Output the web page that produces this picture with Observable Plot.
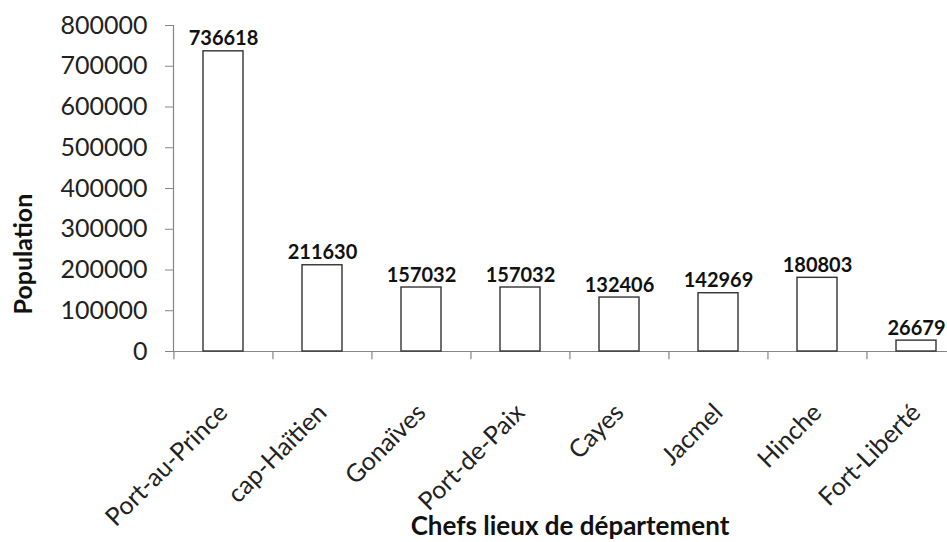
<!DOCTYPE html>
<html><head><meta charset="utf-8">
<script src="https://cdn.jsdelivr.net/npm/d3@7"></script>
<script src="https://cdn.jsdelivr.net/npm/@observablehq/plot@0.6"></script>
<style>body{margin:0;background:#fff;} svg{overflow:hidden;display:block}</style>
</head><body><div id="chart"></div>
<script>
const categories = ["Port-au-Prince","cap-Haïtien","Gonaïves","Port-de-Paix","Cayes","Jacmel","Hinche","Fort-Liberté"];
const population = [736618,211630,157032,157032,132406,142969,180803,26679];
const yTicks = [0,100000,200000,300000,400000,500000,600000,700000,800000];
const yTitle = "Population";
const xTitle = "Chefs lieux de département";

const data = categories.map((c, i) => ({city: c, pop: population[i]}));
const W = 947, H = 542, mL = 173, mR = -19, mT = 25, mB = 191;
const step = (W - mR - mL) / categories.length;

const chart = Plot.plot({
  width: W, height: H,
  marginLeft: mL, marginRight: mR, marginTop: mT, marginBottom: mB,
  style: {fontFamily: "Lato, sans-serif", background: "#fff", color: "#222"},
  x: {domain: categories, paddingInner: 0.6, paddingOuter: 0.3, label: null},
  y: {domain: [0, 800000], label: null},
  marks: [
    Plot.frame({anchor: "left", stroke: "#868686", strokeWidth: 1.2}),
    Plot.ruleY([0], {stroke: "#868686", strokeWidth: 1.2}),
    Plot.ruleX(categories, {x: d => d, y1: 0, y2: -20000, dx: -step / 2, stroke: "#868686", strokeWidth: 1.2}),
    Plot.axisY({ticks: yTicks, tickSize: 8, tickPadding: 18, tickFormat: d3.format("d"), fontSize: 25, stroke: "#868686", fill: "#222", label: null}),
    Plot.axisX({tickSize: 0, tickPadding: 57, tickRotate: -45, fontSize: 25, fill: "#222", label: null}),
    Plot.barY(data, {x: "city", y: "pop", fill: "white", stroke: "#333", strokeWidth: 1.4}),
    Plot.text(data, {x: "city", y: "pop", text: d => String(d.pop), lineAnchor: "bottom", dy: -6, fontWeight: "bold", fontSize: 20, fill: "#111"}),
    Plot.text([yTitle], {frameAnchor: "left", rotate: -90, dx: -150, dy: 126, fontWeight: "bold", fontSize: 25, fill: "#111"}),
    Plot.text([xTitle], {frameAnchor: "bottom", lineAnchor: "bottom", dy: 183, fontWeight: "bold", fontSize: 26, fill: "#111"})
  ]
});
document.getElementById("chart").appendChild(chart);
</script>
</body></html>
